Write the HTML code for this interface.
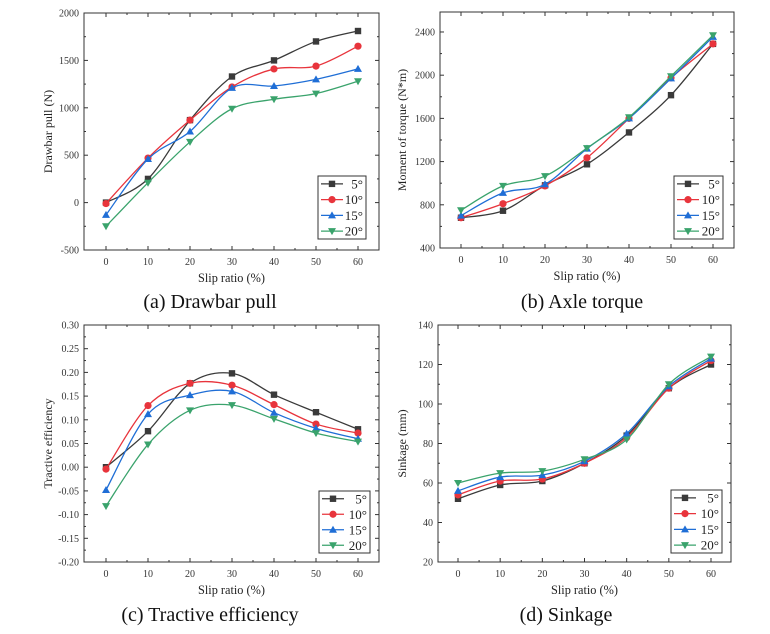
<!DOCTYPE html>
<html><head><meta charset="utf-8"><style>
html,body{margin:0;padding:0;background:#fff;}
svg{display:block;font-family:"Liberation Serif",serif;}
</style></head><body>
<svg id="fig" width="770" height="634" viewBox="0 0 770 634" xmlns="http://www.w3.org/2000/svg"></svg>
<script>
const xCats=[0,10,20,30,40,50,60];
const seriesNames=["5°","10°","15°","20°"];
const drawbar5=[0,250,870,1330,1500,1700,1810];
const drawbar10=[-10,470,870,1220,1410,1440,1650];
const drawbar15=[-130,460,750,1210,1230,1300,1410];
const drawbar20=[-250,210,640,990,1090,1150,1280];
const torque5=[680,745,980,1175,1470,1815,2290];
const torque10=[680,810,975,1235,1600,1975,2290];
const torque15=[700,910,990,1320,1600,1970,2355];
const torque20=[750,975,1065,1325,1610,1990,2370];
const eff5=[0,0.076,0.177,0.198,0.153,0.116,0.080];
const eff10=[-0.004,0.130,0.177,0.173,0.132,0.091,0.072];
const eff15=[-0.048,0.112,0.152,0.160,0.115,0.082,0.060];
const eff20=[-0.082,0.048,0.120,0.131,0.102,0.072,0.054];
const sink5=[52,59,61,70,84,108,120];
const sink10=[54,61,62,70,83,108,122];
const sink15=[56,63,64,71,85,109,123];
const sink20=[60,65,66,72,82,110,124];
const ticksA=[-500,0,500,1000,1500,2000];
const ticksB=[400,800,1200,1600,2000,2400];
const ticksC=[-0.20,-0.15,-0.10,-0.05,0.00,0.05,0.10,0.15,0.20,0.25,0.30];
const ticksD=[20,40,60,80,100,120,140];

const colors=["#3a3a3a","#e8343c","#1f6ed6","#3aa36c"];
const NS="http://www.w3.org/2000/svg";
const svg=document.getElementById('fig');
function el(tag,attrs,parent){const e=document.createElementNS(NS,tag);for(const k in attrs)e.setAttribute(k,attrs[k]);(parent||svg).appendChild(e);return e;}

function spline(pts){
  let d=`M${pts[0][0]},${pts[0][1]}`;
  for(let i=0;i<pts.length-1;i++){
    const p0=pts[i-1]||pts[i],p1=pts[i],p2=pts[i+1],p3=pts[i+2]||pts[i+1];
    const c1=[p1[0]+(p2[0]-p0[0])/6,p1[1]+(p2[1]-p0[1])/6];
    const c2=[p2[0]-(p3[0]-p1[0])/6,p2[1]-(p3[1]-p1[1])/6];
    d+=` C${c1[0]},${c1[1]} ${c2[0]},${c2[1]} ${p2[0]},${p2[1]}`;
  }
  return d;
}
function marker(g,k,x,y,c){
  let m;
  if(k===0){m=el('rect',{x:x-3.2,y:y-3.2,width:6.4,height:6.4,fill:c},g);}
  else if(k===1){m=el('circle',{cx:x,cy:y,r:3.6,fill:c},g);}
  else if(k===2){m=el('polygon',{points:`${x},${y-4} ${x-4},${y+3} ${x+4},${y+3}`,fill:c},g);}
  else {m=el('polygon',{points:`${x},${y+4} ${x-4},${y-3} ${x+4},${y-3}`,fill:c},g);}
  return m;
}
function panel(o){
  const g=el('g',{});
  
  
  const sx=v=>o.x0+(v-0)*(o.x60-o.x0)/60;
  const sy=v=>o.bot-(v-o.ymin)*(o.bot-o.top)/(o.ymax-o.ymin);
  const frame=el('rect',{x:o.L,y:o.top,width:o.R-o.L,height:o.bot-o.top,fill:'none',stroke:'#333','stroke-width':1},g);
  
  const yt=o.ticks;
  yt.forEach((t,i)=>{
    const y=sy(t);
    el('line',{x1:o.L,y1:y,x2:o.L+4,y2:y,stroke:'#333'},g);
    el('line',{x1:o.R,y1:y,x2:o.R-4,y2:y,stroke:'#333'},g);
    if(i<yt.length-1){const ym=sy((t+yt[i+1])/2);
      el('line',{x1:o.L,y1:ym,x2:o.L+2,y2:ym,stroke:'#333'},g);
      el('line',{x1:o.R,y1:ym,x2:o.R-2,y2:ym,stroke:'#333'},g);}
    const tx=el('text',{x:o.L-5,y:y+3.5,'text-anchor':'end','font-size':10,fill:'#333'},g);
    tx.textContent=o.fmt(t);
    
  });
  xCats.forEach((c,i)=>{
    const x=sx(c);
    el('line',{x1:x,y1:o.bot,x2:x,y2:o.bot-4,stroke:'#333'},g);
    el('line',{x1:x,y1:o.top,x2:x,y2:o.top+4,stroke:'#333'},g);
    if(i<xCats.length-1){const xm=sx(c+5);
      el('line',{x1:xm,y1:o.bot,x2:xm,y2:o.bot-2,stroke:'#333'},g);
      el('line',{x1:xm,y1:o.top,x2:xm,y2:o.top+2,stroke:'#333'},g);}
    const tx=el('text',{x:x,y:o.bot+15,'text-anchor':'middle','font-size':10,fill:'#333'},g);
    tx.textContent=c;
    
  });
  const xt=el('text',{x:(o.L+o.R)/2,y:o.bot+32,'text-anchor':'middle','font-size':12.3,fill:'#222'},g);
  xt.textContent='Slip ratio (%)';
  const yl=el('text',{x:0,y:0,'text-anchor':'middle','font-size':12,fill:'#222',transform:`translate(${o.ytx},${(o.top+o.bot)/2}) rotate(-90)`},g);
  yl.textContent=o.ytitle;
  o.series.forEach((s,k)=>{
    const pts=s.map((v,i)=>[sx(xCats[i]),sy(v)]);
    const p=el('path',{d:spline(pts),fill:'none',stroke:colors[k],'stroke-width':1.3},g);
    
    pts.forEach(pt=>{const m=marker(g,k,pt[0],pt[1],colors[k]);
      });
  });
  const lg=el('g',{},g);
  
  el('rect',{x:o.lx,y:o.ly,width:o.lw,height:o.lh,fill:'#fff',stroke:'#333'},lg);
  const rh=o.lh/4;
  seriesNames.forEach((n,k)=>{
    const y=o.ly+rh*(k+0.5);
    el('line',{x1:o.lx+3,y1:y,x2:o.lx+25,y2:y,stroke:colors[k],'stroke-width':1.3},lg);
    marker(lg,k,o.lx+14,y,colors[k]);
    const t=el('text',{x:o.lx+o.lw-3,y:y+4.5,'text-anchor':'end','font-size':13,fill:'#222'},lg);
    t.textContent=n;
  });
  const cap=el('text',{x:o.capx,y:o.capy,'text-anchor':'middle','font-size':20,fill:'#111'},g);
  cap.textContent=o.caption;
}
panel({name:'drawbar-pull-chart',L:84,R:379,top:13,bot:250,x0:106,x60:358,ymin:-500,ymax:2000,ticks:ticksA,fmt:t=>String(t),
  ytitle:'Drawbar pull (N)',ytx:52,series:[drawbar5,drawbar10,drawbar15,drawbar20],lx:318,ly:176,lw:48,lh:63,capx:210,capy:308,caption:'(a) Drawbar pull'});
panel({name:'axle-torque-chart',L:440,R:734,top:12,bot:248,x0:461,x60:713,ymin:400,ymax:2585,ticks:ticksB,fmt:t=>String(t),
  ytitle:'Moment of torque (N*m)',ytx:406,series:[torque5,torque10,torque15,torque20],lx:674,ly:176,lw:49,lh:63,capx:582,capy:308,caption:'(b) Axle torque'});
panel({name:'tractive-efficiency-chart',L:84,R:379,top:325,bot:562,x0:106,x60:358,ymin:-0.2,ymax:0.3,ticks:ticksC,fmt:t=>t.toFixed(2),
  ytitle:'Tractive efficiency',ytx:52,series:[eff5,eff10,eff15,eff20],lx:319,ly:491,lw:51,lh:62,capx:210,capy:621,caption:'(c) Tractive efficiency'});
panel({name:'sinkage-chart',L:438,R:731,top:325,bot:562,x0:458,x60:711,ymin:20,ymax:140,ticks:ticksD,fmt:t=>String(t),
  ytitle:'Sinkage (mm)',ytx:406,series:[sink5,sink10,sink15,sink20],lx:671,ly:490,lw:51,lh:63,capx:566,capy:621,caption:'(d) Sinkage'});
</script>
</body></html>
